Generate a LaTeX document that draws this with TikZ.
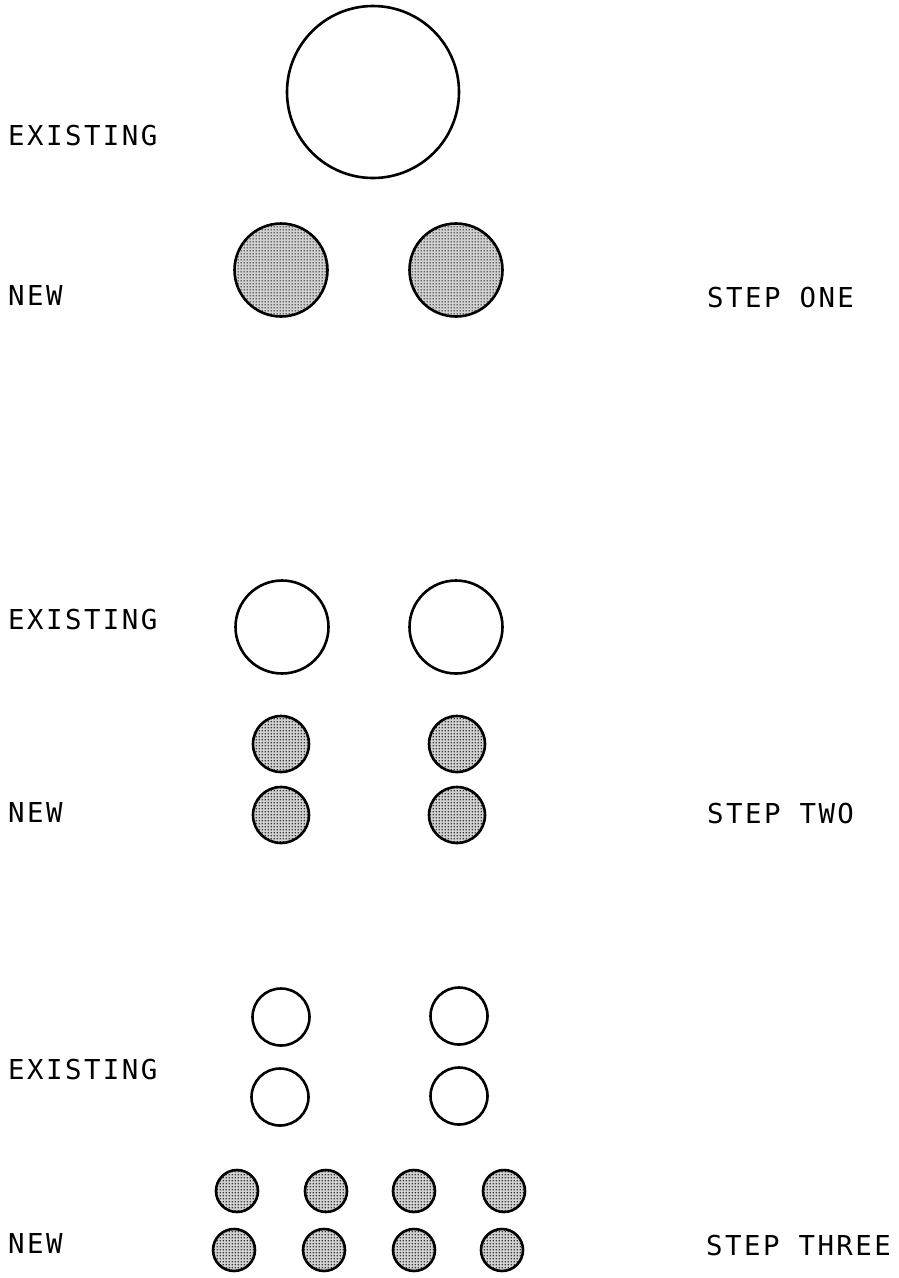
\documentclass[tikz,border=0pt]{standalone}
\usepackage{fontspec}
\newfontfamily\labfont[LetterSpace=9]{DejaVu Sans Mono}
\usetikzlibrary{patterns.meta}
\tikzdeclarepattern{name=stipple, type=uncolored,
  bounding box={(0pt,0pt) and (3pt,3pt)}, tile size={(3pt,3pt)},
  code={\fill (1.5pt,1.5pt) circle (0.95pt);}}
\tikzset{
  oldc/.style={circle, draw=black, line width=2.6pt, inner sep=0pt, fill=white},
  newc/.style={circle, draw=black, line width=2.6pt, inner sep=0pt, preaction={fill=black!18}, pattern={stipple}, pattern color=black},
  lab/.style={anchor=base west, inner sep=0pt, font=\labfont\fontsize{27.4}{30}\selectfont}
}
\begin{document}
\begin{tikzpicture}[x=1pt,y=-1pt]
\path[use as bounding box, fill=white] (0,0) rectangle (898,1278);
% Step one
\node[oldc, minimum size=172pt] (e1) at (373,92) {};
\node[newc, minimum size=93pt] (n1a) at (281,270) {};
\node[newc, minimum size=93pt] (n1b) at (456,270) {};
\node[lab] (le1) at (8,145) {EXISTING};
\node[lab] (ln1) at (8,305) {NEW};
\node[lab] (s1) at (707,307) {STEP ONE};
% Step two
\node[oldc, minimum size=93pt] (e2a) at (282,627) {};
\node[oldc, minimum size=93pt] (e2b) at (456,627) {};
\node[newc, minimum size=56pt] (n2a) at (281,744) {};
\node[newc, minimum size=56pt] (n2b) at (281,815) {};
\node[newc, minimum size=56pt] (n2c) at (457,744) {};
\node[newc, minimum size=56pt] (n2d) at (457,815) {};
\node[lab] (le2) at (8,629) {EXISTING};
\node[lab] (ln2) at (8,822) {NEW};
\node[lab] (s2) at (707,823) {STEP TWO};
% Step three
\node[oldc, minimum size=57pt] (e3a) at (281,1017) {};
\node[oldc, minimum size=57pt] (e3b) at (280,1097) {};
\node[oldc, minimum size=57pt] (e3c) at (459,1016) {};
\node[oldc, minimum size=57pt] (e3d) at (459,1096) {};
\node[newc, minimum size=42pt] (n3a) at (237,1191) {};
\node[newc, minimum size=42pt] (n3b) at (326,1191) {};
\node[newc, minimum size=42pt] (n3c) at (414,1191) {};
\node[newc, minimum size=42pt] (n3d) at (504,1191) {};
\node[newc, minimum size=42pt] (n3e) at (234,1250) {};
\node[newc, minimum size=42pt] (n3f) at (324,1250) {};
\node[newc, minimum size=42pt] (n3g) at (414,1250) {};
\node[newc, minimum size=42pt] (n3h) at (502,1250) {};
\node[lab] (le3) at (8,1079) {EXISTING};
\node[lab] (ln3) at (8,1253) {NEW};
\node[lab] (s3) at (706,1255) {STEP THREE};
\end{tikzpicture}
\end{document}
